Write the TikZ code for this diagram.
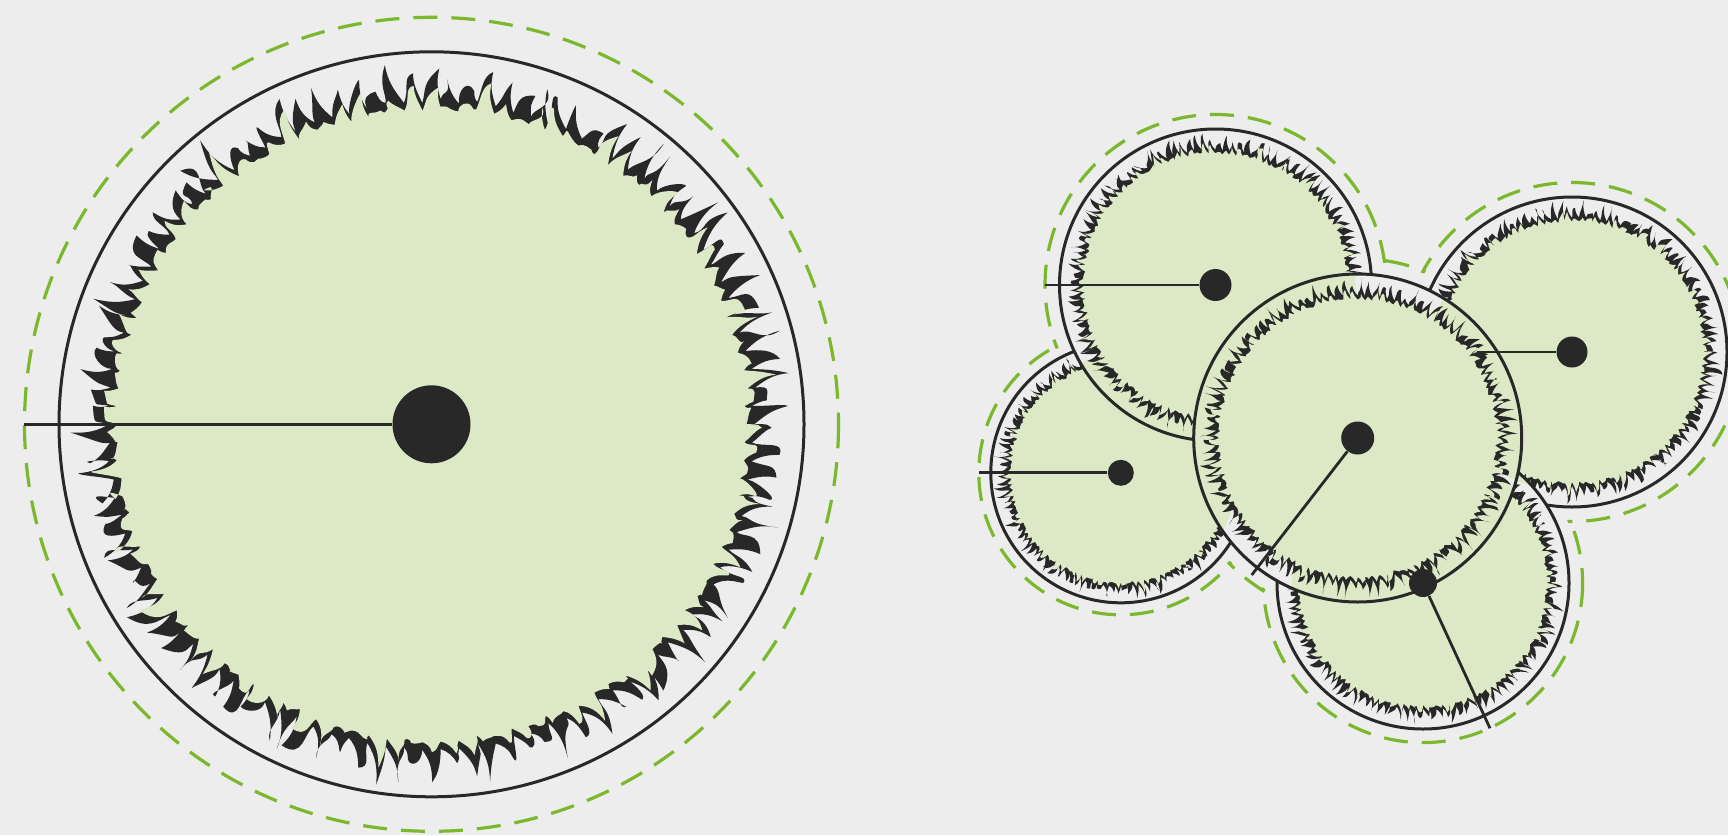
\documentclass[tikz,border=0pt]{standalone}
\usetikzlibrary{calc}

\definecolor{bggrey}{HTML}{EDEDED}
\definecolor{leafgreen}{HTML}{DDE9C6}
\definecolor{inkblack}{HTML}{282828}
\definecolor{spreadgreen}{HTML}{7BB82D}

\tikzset{
  spread/.style={draw=spreadgreen, line width=1.6pt, dash pattern=on 12pt off 7pt},
  crown/.style={draw=inkblack, line width=1.5pt},
  trunk/.style={circle, fill=inkblack, inner sep=0pt, minimum size=#1},
  stem/.style={draw=inkblack, line width=1.4pt},
}

% #1 centre, #2 crown radius, #3 seed, #4 number of tufts
\newcommand{\grasstufts}[4]{%
  \begin{scope}[shift={(#1)}]
    \pgfmathsetseed{#3}
    \fill[inkblack] (0:{0.86*#2})
      \foreach \k in {1,...,#4}{
        to[bend left=16] ({(\k-0.5)/#4*360+(rnd-0.5)/#4*300}:{#2*(0.90+0.085*rnd)})
        to[bend right=16] ({\k/#4*360}:{#2*(0.86+0.015*rnd)})
      } -- cycle;
    \pgfmathsetmacro{\inr}{0.842*#2-1}
    \pgfmathsetseed{#3}
    \fill[leafgreen] (0:{\inr})
      \foreach \k in {1,...,#4}{
        to[bend left=16] ({(\k-0.5)/#4*360+(rnd-0.5)/#4*300}:{\inr+(0.55+0.35*sin(\k*97.3))*#2*(0.04+0.085*rnd)})
        to[bend right=16] ({\k/#4*360}:{\inr+#2*0.015*rnd})
      } -- cycle;
  \end{scope}
}

\begin{document}
\begin{tikzpicture}[x=0.5pt,y=-0.5pt]
\clip (0,0) rectangle (1728,835);
\fill[bggrey] (0,0) rectangle (1728,835);

\coordinate (bigc) at (431.5,424.3);
\coordinate (ac) at (1215.5,285);
\coordinate (bc) at (1120.8,472.8);
\coordinate (cc) at (1357.7,438);
\coordinate (dc) at (1572,352);
\coordinate (ec) at (1423,583);

% single plant
\draw[spread] (bigc) circle (407);
\grasstufts{bigc}{372.5}{7}{110}
\draw[crown] (bigc) circle (372.5);

% group of five
\draw[spread] (ac) circle (170.5);
\draw[spread] (bc) circle (142);
\draw[spread] (cc) circle (179.5);
\draw[spread] (dc) circle (169.5);
\draw[spread] (ec) circle (159.6);
\fill[bggrey] (ac) circle (168) (bc) circle (139.5) (cc) circle (177)
  (dc) circle (167) (ec) circle (157.1);

\grasstufts{bc}{130}{11}{120}
\draw[crown] (bc) circle (130);

\grasstufts{dc}{155}{13}{120}
\draw[crown] (dc) circle (155);

\begin{scope}
  \clip (ec) circle (146.5);
  \fill[bggrey] (ec) circle (147);
  \fill[leafgreen] (dc) circle (140);
\end{scope}
\grasstufts{ec}{146}{17}{120}
\draw[crown] (ec) circle (146);

\begin{scope}
  \clip (ac) circle (156.5);
  \fill[bggrey] (ac) circle (157);
  \fill[leafgreen] (bc) circle (117);
\end{scope}
\grasstufts{ac}{156}{23}{120}
\draw[crown] (ac) circle (156);

\begin{scope}
  \clip (cc) circle (164.5);
  \fill[bggrey] (cc) circle (165);
  \fill[leafgreen] (ac) circle (140) (bc) circle (117) (dc) circle (140) (ec) circle (131);
\end{scope}
\grasstufts{cc}{164}{29}{120}
\draw[crown] (cc) circle (164);

% trunks and radii
\node[trunk=39pt] (bigdot) at (bigc) {};
\node[trunk=16pt] (adot) at (ac) {};
\node[trunk=13pt] (bdot) at (bc) {};
\node[trunk=16.5pt] (cdot) at (cc) {};
\node[trunk=15.5pt] (ddot) at (dc) {};
\node[trunk=14pt] (edot) at (ec) {};

\coordinate (bigend) at (24,424.3);
\coordinate (aend) at (1045,285);
\coordinate (bend) at (979,472.8);
\coordinate (cend) at (1251.7,575);
\coordinate (dend) at (1476.7,352);
\coordinate (eend) at (1490,728.3);

\draw[stem] (bigend) -- (bigdot);
\draw[stem] (aend) -- (adot);
\draw[stem] (bend) -- (bdot);
\draw[stem] (cend) -- (cdot);
\draw[stem] (dend) -- (ddot);
\draw[stem] (eend) -- (edot);
\end{tikzpicture}
\end{document}
